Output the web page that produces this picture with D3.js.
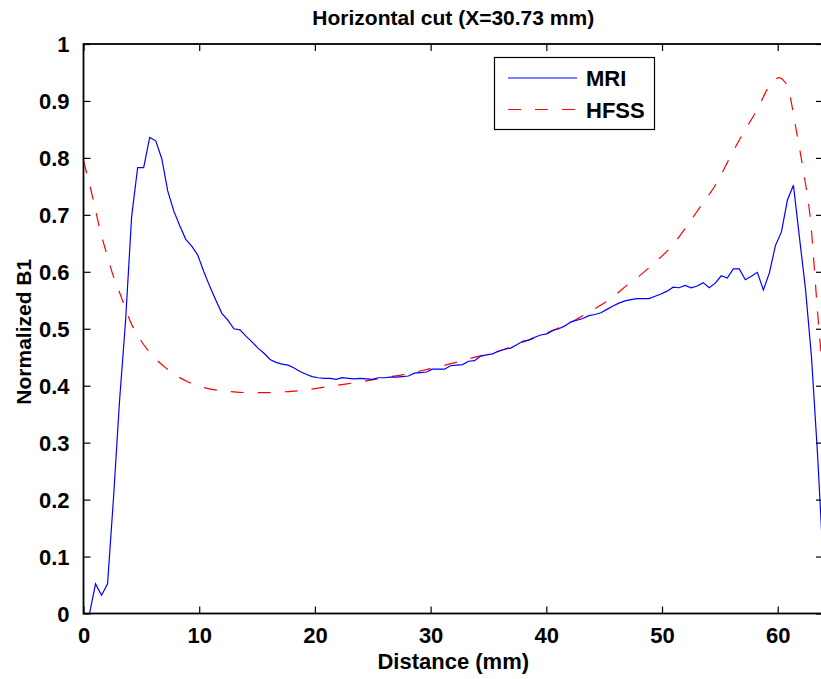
<!DOCTYPE html>
<html>
<head>
<meta charset="utf-8">
<script src="https://cdn.jsdelivr.net/npm/d3@7"></script>
<style>
  html, body { margin: 0; padding: 0; background: #fff; }
  svg { display: block; }
  text { font-family: "Liberation Sans", Arial, sans-serif; fill: #000; }
</style>
</head>
<body>
<svg id="chart" width="821" height="679"></svg>
<script>
// ---- data ----
const title = "Horizontal cut (X=30.73 mm)";
const xLabel = "Distance (mm)";
const yLabel = "Normalized B1";
const seriesNames = ["MRI", "HFSS"];
const xTicks = [0, 10, 20, 30, 40, 50, 60];
const yTicks = [0, 0.1, 0.2, 0.3, 0.4, 0.5, 0.6, 0.7, 0.8, 0.9, 1];

const mriX = [0, 0.52, 1.04, 1.56, 2.08, 2.6, 3.12, 3.64, 4.16, 4.68, 5.2, 5.72, 6.24, 6.76, 7.28, 7.8, 8.32, 8.84, 9.36, 9.88,
  10.4, 10.92, 11.44, 11.96, 12.48, 13.0, 13.52, 14.04, 14.56, 15.08, 15.6, 16.12, 16.64, 17.16, 17.68, 18.2, 18.72, 19.24, 19.76,
  20.28, 20.8, 21.32, 21.84, 22.36, 22.88, 23.4, 23.92, 24.44, 24.96, 25.48, 26.0, 26.52, 27.04, 27.56, 28.08, 28.6, 29.12, 29.64,
  30.16, 30.68, 31.2, 31.72, 32.24, 32.76, 33.28, 33.8, 34.32, 34.84, 35.36, 35.88, 36.4, 36.92, 37.44, 37.96, 38.48, 39.0, 39.52,
  40.04, 40.56, 41.08, 41.6, 42.12, 42.64, 43.16, 43.68, 44.2, 44.72, 45.24, 45.76, 46.28, 46.8, 47.32, 47.84, 48.36, 48.88, 49.4,
  49.92, 50.44, 50.96, 51.48, 52.0, 52.52, 53.04, 53.56, 54.08, 54.6, 55.12, 55.64, 56.16, 56.68, 57.2, 57.72, 58.24, 58.76, 59.28,
  59.8, 60.32, 60.84, 61.36, 61.88, 62.4, 62.92, 63.44, 63.96];
const mriY = [0, 0, 0.052, 0.032, 0.052, 0.205, 0.375, 0.515, 0.697, 0.783, 0.783, 0.836, 0.830, 0.799, 0.742, 0.707, 0.681, 0.657, 0.645, 0.629,
  0.600, 0.574, 0.550, 0.527, 0.515, 0.500, 0.498, 0.487, 0.477, 0.466, 0.457, 0.446, 0.441, 0.438, 0.436, 0.431, 0.425, 0.420, 0.416,
  0.414, 0.413, 0.413, 0.411, 0.414, 0.413, 0.412, 0.413, 0.412, 0.411, 0.414, 0.414, 0.415, 0.415, 0.416, 0.417, 0.422, 0.423, 0.424,
  0.429, 0.429, 0.429, 0.435, 0.436, 0.437, 0.443, 0.444, 0.452, 0.454, 0.456, 0.461, 0.464, 0.466, 0.472, 0.478, 0.480, 0.485, 0.489,
  0.491, 0.497, 0.500, 0.505, 0.512, 0.515, 0.518, 0.523, 0.525, 0.528, 0.534, 0.540, 0.545, 0.549, 0.551, 0.553, 0.553, 0.553, 0.557,
  0.561, 0.566, 0.573, 0.572, 0.576, 0.572, 0.575, 0.581, 0.572, 0.580, 0.593, 0.589, 0.605, 0.605, 0.586, 0.592, 0.599, 0.568, 0.598,
  0.646, 0.670, 0.726, 0.752, 0.660, 0.570, 0.450, 0.280, 0.080];

const hfssX = [0, 0.85, 1.43, 2.0, 2.6, 3.15, 4.0, 5, 6, 7, 8, 9, 10, 11, 12, 13, 14, 15, 16, 17, 18, 19, 20, 22, 24, 26, 28, 30,
  32, 34, 36, 37, 38, 39, 40, 41, 42, 43, 44, 45, 46, 47, 48, 49.3, 50.8, 52.1, 53.3, 54.7, 55.9, 57.0, 58.2, 59.3, 59.8, 60.1, 60.4,
  60.9, 61.6, 62.2, 62.8, 63.5, 64];
const hfssY = [0.795, 0.726, 0.673, 0.632, 0.591, 0.562, 0.515, 0.478, 0.452, 0.433, 0.418, 0.407, 0.399, 0.394, 0.391, 0.389, 0.388,
  0.388, 0.388, 0.389, 0.390, 0.392, 0.395, 0.401, 0.407, 0.414, 0.421, 0.430, 0.440, 0.451, 0.461, 0.469, 0.477, 0.484, 0.492,
  0.501, 0.510, 0.521, 0.533, 0.545, 0.560, 0.577, 0.592, 0.615, 0.644, 0.679, 0.714, 0.755, 0.802, 0.843, 0.884, 0.927, 0.938, 0.941,
  0.938, 0.922, 0.849, 0.779, 0.697, 0.515, 0.400];

// ---- layout ----
const svg = d3.select("#chart");
const L = 83.5, R = 824, T = 44, B = 613.5;
const x = d3.scaleLinear().domain([0, 64]).range([L, R]);
const y = d3.scaleLinear().domain([0, 1]).range([B, T]);

svg.append("defs").append("clipPath").attr("id", "clip")
  .append("rect").attr("x", L).attr("y", T).attr("width", R - L).attr("height", B - T);

const fontSize = 22;

// title
svg.append("text").attr("x", (L + 821) / 2 + 1).attr("y", 25).attr("text-anchor", "middle")
  .style("font-size", "21px").style("font-weight", "bold").text(title);

// lines
const mri = mriX.map((d, i) => [d, mriY[i]]);
const hfss = hfssX.map((d, i) => [d, hfssY[i]]);
const gLines = svg.append("g").attr("clip-path", "url(#clip)");
gLines.append("path").datum(hfss)
  .attr("d", d3.line().x(d => x(d[0])).y(d => y(d[1])).curve(d3.curveMonotoneX))
  .attr("fill", "none").attr("stroke", "#ff0000").attr("stroke-width", 1.2)
  .attr("stroke-dasharray", "13,14");
gLines.append("path").datum(mri)
  .attr("d", d3.line().x(d => x(d[0])).y(d => y(d[1])))
  .attr("fill", "none").attr("stroke", "#0000ff").attr("stroke-width", 1.2);

// axes (ticks inward, MATLAB style)
const xAxisB = d3.axisBottom(x).tickValues(xTicks).tickSizeInner(-7).tickSizeOuter(0).tickPadding(14).tickFormat(d3.format("d"));
const gxb = svg.append("g").attr("transform", `translate(0,${B})`).call(xAxisB);
const xAxisT = d3.axisTop(x).tickValues(xTicks).tickSizeInner(-7).tickSizeOuter(0).tickFormat("");
svg.append("g").attr("transform", `translate(0,${T})`).call(xAxisT);
const yAxisL = d3.axisLeft(y).tickValues(yTicks).tickSizeInner(-7).tickSizeOuter(0).tickPadding(14).tickFormat(d => d3.format("~g")(d));
const gyl = svg.append("g").attr("transform", `translate(${L},0)`).call(yAxisL);
const yAxisR = d3.axisRight(y).tickValues(yTicks).tickSizeInner(-6).tickSizeOuter(0).tickFormat("");
svg.append("g").attr("transform", `translate(${R - 2},0)`).call(yAxisR);

svg.selectAll(".domain").remove();
svg.selectAll(".tick line").attr("stroke", "#000").attr("stroke-width", 1.2);
svg.selectAll(".tick text").style("font-family", "'Liberation Sans', Arial, sans-serif")
  .style("font-size", fontSize + "px").style("font-weight", "bold").attr("fill", "#000");
gxb.selectAll(".tick text").attr("dy", "0.71em");
gyl.selectAll(".tick text").attr("dy", "0.36em");

// frame
svg.append("rect").attr("x", L).attr("y", T).attr("width", R - L).attr("height", B - T)
  .attr("fill", "none").attr("stroke", "#000").attr("stroke-width", 1.8);

// axis labels
svg.append("text").attr("x", (L + 821) / 2 + 1).attr("y", 669).attr("text-anchor", "middle")
  .style("font-size", "22px").style("font-weight", "bold").text(xLabel);
svg.append("text").attr("transform", `translate(31,${(T + B) / 2 + 3}) rotate(-90)`).attr("text-anchor", "middle")
  .style("font-size", "21px").style("font-weight", "bold").text(yLabel);

// legend
const lg = svg.append("g");
lg.append("rect").attr("x", 494.5).attr("y", 57.5).attr("width", 160).attr("height", 72)
  .attr("fill", "#fff").attr("stroke", "#000").attr("stroke-width", 1.2);
const legendY = [78, 109.5];
const legendColor = ["#0000ff", "#ff0000"];
const legendDash = [null, "13,14"];
seriesNames.forEach((name, i) => {
  lg.append("line").attr("x1", 508).attr("x2", 577).attr("y1", legendY[i]).attr("y2", legendY[i])
    .attr("stroke", legendColor[i]).attr("stroke-width", 1.2)
    .attr("stroke-dasharray", legendDash[i]);
  lg.append("text").attr("x", 586).attr("y", legendY[i] + 8)
    .style("font-size", "22px").style("font-weight", "bold").text(name);
});
</script>
</body>
</html>
